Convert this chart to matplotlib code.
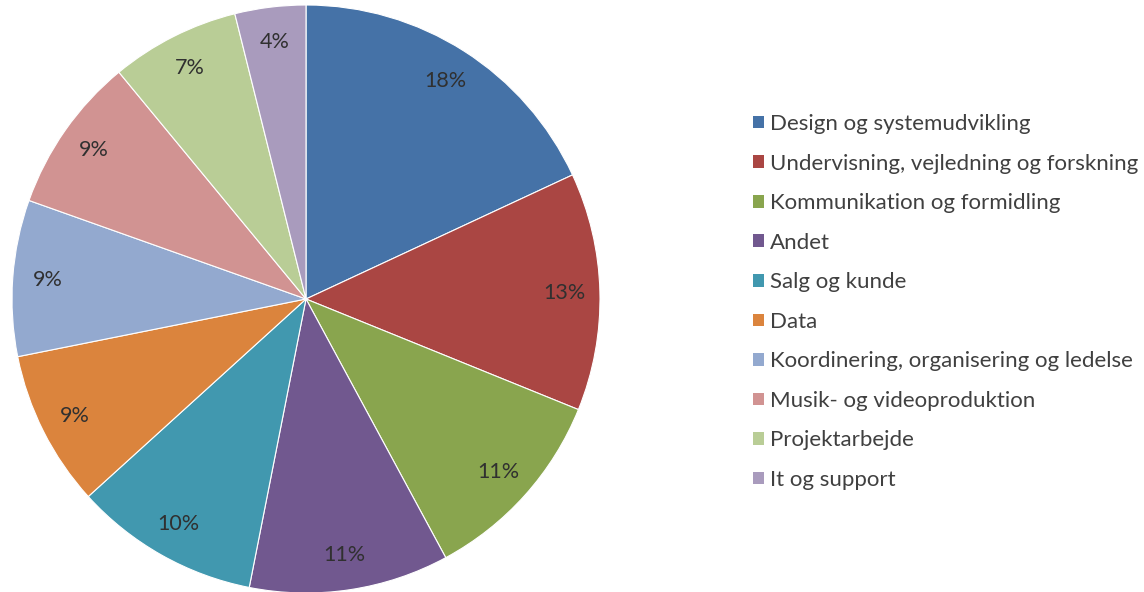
"""Pie chart of job areas with a legend on the right."""

import matplotlib

matplotlib.use("Agg")
import matplotlib.pyplot as plt
from matplotlib.patches import Patch

# --- data ---
CATEGORIES = [
    "Design og systemudvikling",
    "Undervisning, vejledning og forskning",
    "Kommunikation og formidling",
    "Andet",
    "Salg og kunde",
    "Data",
    "Koordinering, organisering og ledelse",
    "Musik- og videoproduktion",
    "Projektarbejde",
    "It og support",
]
SHARES = [18.1, 13.1, 11.0, 11.0, 10.2, 8.6, 8.6, 8.6, 7.1, 3.9]
COLORS = [
    "#4572A7", "#AA4643", "#89A54E", "#71588F", "#4198AF",
    "#DB843D", "#93A9CF", "#D19392", "#B9CD96", "#A99BBD",
]

# --- layout (pixels) ---
W, H, DPI = 1144, 592, 100
CX, CY, R = 306, 299, 294
FONT = "Lato"
TEXT_COLOR = "#404040"

plt.rcParams["font.family"] = [FONT, "DejaVu Sans"]

fig = plt.figure(figsize=(W / DPI, H / DPI), dpi=DPI)
ax = fig.add_axes([(CX - R) / W, (H - CY - R) / H, 2 * R / W, 2 * R / H])
ax.axis("off")

wedges, _, autotexts = ax.pie(
    SHARES,
    colors=COLORS,
    startangle=90,
    counterclock=False,
    radius=1,
    autopct=lambda p: f"{p:.0f}%",
    pctdistance=0.88,
    wedgeprops={"edgecolor": "white", "linewidth": 0.8},
    textprops={"fontsize": 15.5, "color": "#303030"},
)
ax.set_xlim(-1, 1)
ax.set_ylim(-1, 1)

handles = [Patch(facecolor=c, edgecolor="none") for c in COLORS]
fig.legend(
    handles,
    CATEGORIES,
    loc="upper left",
    bbox_to_anchor=(753 / W, 1 - 114 / H),
    frameon=False,
    fontsize=16,
    labelcolor=TEXT_COLOR,
    handlelength=0.5,
    handleheight=0.5,
    handletextpad=0.25,
    labelspacing=0.88,
    borderaxespad=0,
    borderpad=0,
)

fig.savefig("out.png", dpi=DPI, facecolor="white")
